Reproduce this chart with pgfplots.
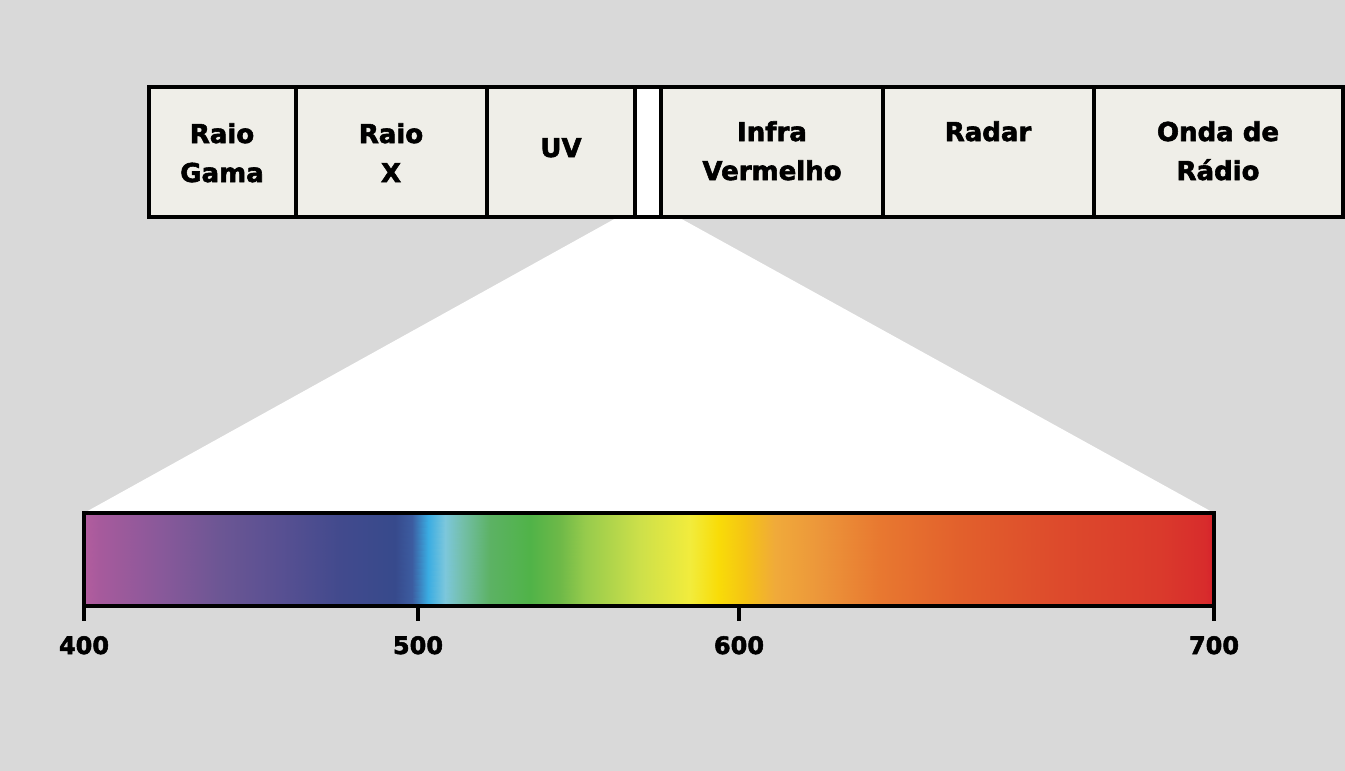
\documentclass[border=0pt]{standalone}
\usepackage{pgfplots}
\pgfplotsset{compat=1.18}
\usepackage{fontspec}
\setmainfont{DejaVu Sans}[BoldFeatures={FakeBold=2.2}]
\definecolor{bg}{RGB}{217,217,217}
\definecolor{boxc}{RGB}{239,238,232}
\tikzset{lbl/.style={font=\fontsize{26}{30}\selectfont\bfseries, anchor=base, inner sep=0pt},
         tlbl/.style={font=\fontsize{24}{28}\selectfont\bfseries, anchor=base, inner sep=0pt}}
\begin{document}
\begin{tikzpicture}
\begin{axis}[
  width=1345pt, height=771pt, scale only axis,
  xmin=0, xmax=1345, ymin=0, ymax=771, y dir=reverse,
  axis lines=none, ticks=none, clip=false,
  colormap={spectrum}{
    rgb255(84pt)=(179,93,158)
    rgb255(100pt)=(166,90,156)
    rgb255(160pt)=(137,89,154)
    rgb255(220pt)=(108,86,148)
    rgb255(280pt)=(88,80,146)
    rgb255(340pt)=(66,74,141)
    rgb255(395pt)=(55,74,140)
    rgb255(412pt)=(60,92,160)
    rgb255(428pt)=(58,172,226)
    rgb255(445pt)=(124,199,220)
    rgb255(462pt)=(116,191,170)
    rgb255(490pt)=(92,178,100)
    rgb255(530pt)=(80,179,72)
    rgb255(560pt)=(110,185,72)
    rgb255(585pt)=(150,203,76)
    rgb255(640pt)=(205,224,74)
    rgb255(690pt)=(242,236,60)
    rgb255(718pt)=(248,220,8)
    rgb255(745pt)=(245,196,20)
    rgb255(775pt)=(240,170,58)
    rgb255(820pt)=(236,150,58)
    rgb255(880pt)=(232,120,48)
    rgb255(960pt)=(226,96,44)
    rgb255(1060pt)=(221,74,44)
    rgb255(1160pt)=(218,58,44)
    rgb255(1205pt)=(216,44,44)
    rgb255(1214pt)=(214,34,44)
  },
  point meta min=84, point meta max=1214,
]
% background
\addplot[fill=bg, draw=none] coordinates {(0,0)(1345,0)(1345,771)(0,771)} -- cycle;
% white wedge
\addplot[fill=white, draw=none] coordinates {(618,217)(678,217)(1214,513)(84,513)} -- cycle;
% top boxes
\addplot[fill=boxc, draw=black, line width=3.2pt] coordinates {(149,87)(296,87)(296,217)(149,217)} -- cycle;
\addplot[fill=boxc, draw=black, line width=3.2pt] coordinates {(296,87)(487,87)(487,217)(296,217)} -- cycle;
\addplot[fill=boxc, draw=black, line width=3.2pt] coordinates {(487,87)(635,87)(635,217)(487,217)} -- cycle;
\addplot[fill=white, draw=black, line width=3.2pt] coordinates {(635,87)(661,87)(661,217)(635,217)} -- cycle;
\addplot[fill=boxc, draw=black, line width=3.2pt] coordinates {(661,87)(883,87)(883,217)(661,217)} -- cycle;
\addplot[fill=boxc, draw=black, line width=3.2pt] coordinates {(883,87)(1094,87)(1094,217)(883,217)} -- cycle;
\addplot[fill=boxc, draw=black, line width=3.2pt] coordinates {(1094,87)(1343,87)(1343,217)(1094,217)} -- cycle;
% box labels
\node[lbl] at (axis cs:222,143) {Raio};
\node[lbl] at (axis cs:222,182) {Gama};
\node[lbl] at (axis cs:391,143) {Raio};
\node[lbl] at (axis cs:391,182) {X};
\node[lbl] at (axis cs:561,157) {UV};
\node[lbl] at (axis cs:772,141) {Infra};
\node[lbl] at (axis cs:772,180) {Vermelho};
\node[lbl] at (axis cs:988,141) {Radar};
\node[lbl] at (axis cs:1218,141) {Onda de};
\node[lbl] at (axis cs:1218,180) {Rádio};
% spectrum bar
\addplot[surf, shader=interp, point meta=x] table {
x y
84 513
100 513
160 513
220 513
280 513
340 513
395 513
412 513
428 513
445 513
462 513
490 513
530 513
560 513
585 513
640 513
690 513
718 513
745 513
775 513
820 513
880 513
960 513
1060 513
1160 513
1205 513
1214 513

84 606
100 606
160 606
220 606
280 606
340 606
395 606
412 606
428 606
445 606
462 606
490 606
530 606
560 606
585 606
640 606
690 606
718 606
745 606
775 606
820 606
880 606
960 606
1060 606
1160 606
1205 606
1214 606
};
\addplot[draw=black, line width=3.2pt, fill=none] coordinates {(84,513)(1214,513)(1214,606)(84,606)} -- cycle;
% ticks
\addplot[draw=black, line width=3.2pt] coordinates {(84,606)(84,621)};
\addplot[draw=black, line width=3.2pt] coordinates {(418,606)(418,621)};
\addplot[draw=black, line width=3.2pt] coordinates {(739,606)(739,621)};
\addplot[draw=black, line width=3.2pt] coordinates {(1214,606)(1214,621)};
\node[tlbl] at (axis cs:84,654) {400};
\node[tlbl] at (axis cs:418,654) {500};
\node[tlbl] at (axis cs:739,654) {600};
\node[tlbl] at (axis cs:1214,654) {700};
\end{axis}
\end{tikzpicture}
\end{document}
